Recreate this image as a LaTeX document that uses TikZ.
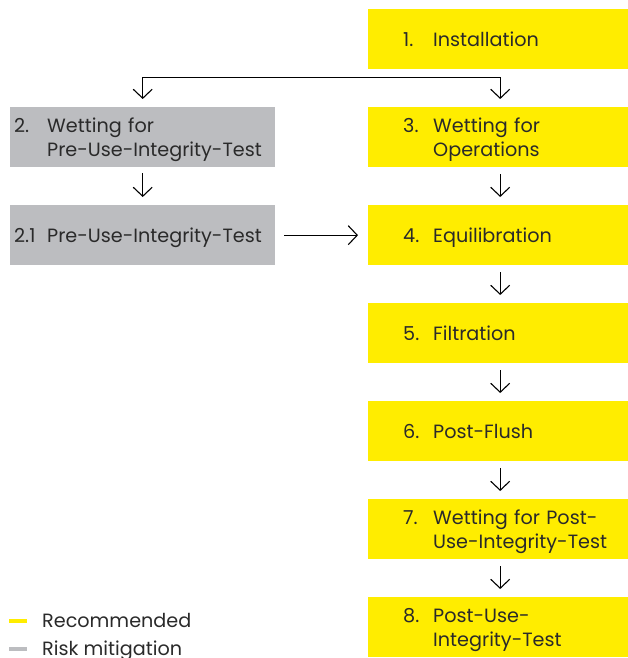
\documentclass[tikz,border=0pt]{standalone}
\usepackage{fontspec}
\setmainfont{Poppins}
\usetikzlibrary{arrows.meta}
\definecolor{sy}{HTML}{FFED00}
\definecolor{sg}{HTML}{BCBDC0}
\definecolor{tx}{HTML}{2A2A2A}
\newcommand\steptext[3][30pt]{\raisebox{-2.5pt}[\height][\depth]{\begin{tabular}{@{}p{#1}@{}l@{}}#2 & #3\end{tabular}}}
\begin{document}
\begin{tikzpicture}[x=1pt,y=-1pt,
  txt/.style={font=\fontsize{19.2}{24}\selectfont, text=tx},
  ybox/.style={txt, fill=sy, anchor=north west, minimum width=264pt, minimum height=60pt,
    text width=194pt, inner xsep=35pt, inner ysep=0pt, align=left},
  gbox/.style={txt, fill=sg, anchor=north west, minimum width=265pt, minimum height=60pt,
    text width=257pt, inner xsep=4pt, inner ysep=0pt, align=left},
  arr/.style={draw=black, line width=1.1pt, -{Straight Barb[length=9pt,width=19pt,line width=1.1pt]}},
  arr2/.style={draw=black, line width=1.3pt, {Straight Barb[length=9pt,width=19pt,line width=1.1pt]}-{Straight Barb[length=9pt,width=19pt,line width=1.1pt]}},
  legmark/.style={minimum width=18pt, minimum height=4pt, inner sep=0pt, anchor=center},
  legtext/.style={txt, anchor=base west, inner sep=0pt}
]
\useasboundingbox (0,0) rectangle (628,658);

\node[ybox] (b1) at (368,9)   {\steptext{1.}{Installation}};
\node[ybox] (b3) at (368,107) {\steptext{3.}{Wetting for\\ & Operations}};
\node[ybox] (b4) at (368,205) {\steptext{4.}{Equilibration}};
\node[ybox] (b5) at (368,303) {\steptext{5.}{Filtration}};
\node[ybox] (b6) at (368,401) {\steptext{6.}{Post-Flush}};
\node[ybox] (b7) at (368,499) {\steptext{7.}{Wetting for Post-\\ & Use-Integrity-Test}};
\node[ybox] (b8) at (368,597) {\steptext{8.}{Post-Use-\\ & Integrity-Test}};

\node[gbox] (g2)  at (10,107) {\steptext[33pt]{2.}{Wetting for\\ & Pre-Use-Integrity-Test}};
\node[gbox] (g21) at (10,205) {\steptext[33pt]{2.1}{Pre-Use-Integrity-Test}};

\draw[arr2] ([yshift=8pt]g2.north) |- ([yshift=-8pt]b1.south) -| ([yshift=8pt]b3.north);
\draw[arr] ([yshift=-6pt]g2.south) -- ([yshift=8pt]g21.north);
\draw[arr] ([xshift=9pt]g21.east) -- ([xshift=-10pt]b4.west);
\foreach \a/\b in {b3/b4,b4/b5,b5/b6,b6/b7,b7/b8}
  \draw[arr] ([yshift=-7pt]\a.south) -- ([yshift=8pt]\b.north);

\node[legmark, fill=sy] (ly) at (18,621) {};
\node[legmark, fill=sg] (lg) at (18,649) {};
\node[legtext] (lr) at (42,627) {Recommended};
\node[legtext] (lm) at (42,655) {Risk mitigation};
\end{tikzpicture}
\end{document}
